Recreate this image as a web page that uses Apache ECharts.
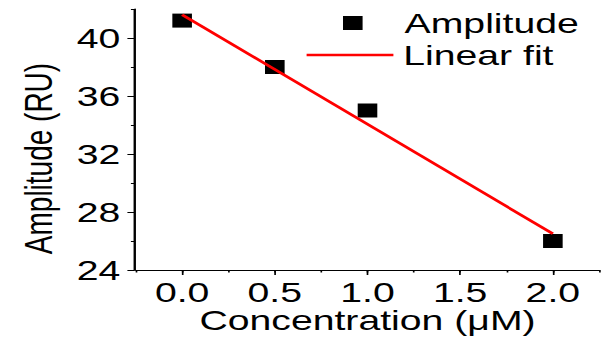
<!DOCTYPE html>
<html>
<head>
<meta charset="utf-8">
<script src="https://cdn.jsdelivr.net/npm/echarts@6/dist/echarts.min.js"></script>
<style>
  html, body { margin: 0; padding: 0; background: #fff; overflow: hidden; }
  /* the reference is stretched sideways, so draw narrow and scale x */
  #main { width: 433px; height: 340px; transform: scaleX(1.4); transform-origin: 0 0; }
</style>
</head>
<body>
<div id="main"></div>
<script>
// measured points
var concX = [0, 0.5, 1.0, 2.0];
var amplitude = [41.2, 38.0, 35.0, 26.0];
// fitted line, end points
var fitX = [0, 2.0];
var fitY = [41.6, 26.5];
// tick labels
var xTicks = [0, 0.5, 1.0, 1.5, 2.0];
var yTicks = [24, 28, 32, 36, 40];
var xRange = [-0.25, 2.25];
var yRange = [24, 42];

var font = 'Liberation Sans, Arial, sans-serif';
var fs = 28;

var ampData = concX.map(function (x, i) { return [x, amplitude[i]]; });
var fitData = fitX.map(function (x, i) { return [x, fitY[i]]; });

var option = {
    animation: false,
    backgroundColor: '#fff',
    textStyle: { fontFamily: font },
    grid: { left: 97, right: 5, top: 9, bottom: 70, outerBoundsMode: 'none' },
    legend: [{
        data: ['Amplitude'],
        left: 240, top: 4,
        itemWidth: 14, itemHeight: 14, itemGap: 0,
        textStyle: { fontSize: fs, color: '#000', fontFamily: font, padding: [0, 0, 0, 25] }
    }, {
        data: [{ name: 'Linear fit', icon: 'rect' }],
        left: 214, top: 36,
        itemWidth: 62, itemHeight: 2.5,
        textStyle: { fontSize: fs, color: '#000', fontFamily: font, padding: [0, 0, 0, 2] }
    }],
    xAxis: [{
        type: 'value',
        min: xRange[0], max: xRange[1],
        name: 'Concentration (μM)',
        nameLocation: 'middle',
        nameGap: 36,
        nameMoveOverlap: false,
        nameTextStyle: { fontSize: fs, color: '#000', fontFamily: font },
        splitLine: { show: false },
        axisLine: { onZero: false, lineStyle: { color: '#000', width: 1 } },
        axisTick: { customValues: xTicks, length: 5, lineStyle: { color: '#000', width: 1.2 } },
        axisLabel: {
            customValues: xTicks, margin: 8, fontSize: fs, color: '#000', fontFamily: font,
            formatter: function (v) { return v.toFixed(1); }
        }
    }, {
        // minor ticks only
        type: 'value', position: 'bottom',
        min: xRange[0], max: xRange[1], interval: 0.25,
        splitLine: { show: false },
        axisLine: { show: false, onZero: false },
        axisTick: { length: 2.5, lineStyle: { color: '#000', width: 1.2 } },
        axisLabel: { show: false }
    }],
    yAxis: [{
        type: 'value',
        min: yRange[0], max: yRange[1],
        offset: 1,
        name: 'Amplitude (RU)',
        nameLocation: 'middle',
        nameGap: 55,
        nameMoveOverlap: false,
        nameTextStyle: { fontSize: fs, color: '#000', fontFamily: font, padding: [0, 38, 0, 0] },
        splitLine: { show: false },
        axisLine: { show: true, onZero: false, lineStyle: { color: '#000', width: 1.2 } },
        axisTick: { show: true, customValues: yTicks, length: 5, lineStyle: { color: '#000' } },
        axisLabel: { customValues: yTicks, margin: 10, fontSize: fs, color: '#000', fontFamily: font }
    }, {
        type: 'value', position: 'left',
        min: yRange[0], max: yRange[1], interval: 2,
        offset: 1,
        splitLine: { show: false },
        axisLine: { show: false, onZero: false },
        axisTick: { show: true, length: 2.5, lineStyle: { color: '#000' } },
        axisLabel: { show: false }
    }],
    series: [{
        name: 'Amplitude',
        type: 'scatter',
        symbol: 'rect',
        symbolSize: 14,
        itemStyle: { color: '#000', opacity: 1 },
        data: ampData
    }, {
        name: 'Linear fit',
        type: 'line',
        symbol: 'none',
        lineStyle: { color: '#ff0000', width: 2.5 },
        itemStyle: { color: '#ff0000' },
        z: 3,
        data: fitData
    }]
};

var myChart = echarts.init(document.getElementById('main'), null, { renderer: 'svg' });
myChart.setOption(option);

// y axis line as a thin bar just left of the plot edge, placed through the chart's scales
var pBot = myChart.convertToPixel({ xAxisIndex: 0, yAxisIndex: 0 }, [xRange[0], yRange[0]]);
var pTop = myChart.convertToPixel({ xAxisIndex: 0, yAxisIndex: 0 }, [xRange[0], yRange[1]]);
if (pBot && pTop && isFinite(pBot[0]) && isFinite(pTop[1])) {
    myChart.setOption({
        graphic: [{
            type: 'rect', z: 100, silent: true,
            shape: { x: pBot[0] - 1.6, y: pTop[1], width: 1.2, height: pBot[1] - pTop[1] + 0.5 },
            style: { fill: '#000' }
        }]
    });
}
</script>
</body>
</html>
